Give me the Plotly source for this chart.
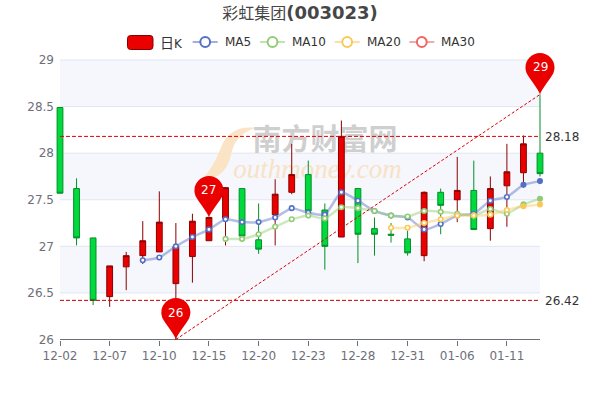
import plotly.graph_objects as go

dates = ["12-02","12-03","12-06","12-07","12-08","12-09","12-10","12-13","12-14","12-15",
         "12-16","12-17","12-20","12-21","12-22","12-23","12-24","12-27","12-28","12-29",
         "12-30","12-31","01-04","01-05","01-06","01-07","01-10","01-11","01-12","01-13"]
open_ = [28.49,27.62,27.09,26.46,26.78,26.90,26.94,26.60,26.89,27.06,
         27.30,27.62,27.07,27.34,27.58,27.77,27.39,27.10,27.62,27.19,
         27.13,27.08,26.90,27.58,27.50,27.60,27.19,27.65,27.79,28.00]
close = [27.57,27.09,26.42,26.79,26.90,27.06,27.26,27.00,27.27,27.31,
         27.63,27.11,26.97,27.56,27.77,27.38,27.00,28.18,27.13,27.13,
         27.12,26.93,27.58,27.44,27.60,27.18,27.62,27.80,28.10,27.78]
low = [27.57,27.01,26.37,26.35,26.53,26.81,26.94,26.00,26.61,27.06,
       27.01,27.11,26.92,27.01,27.56,27.38,26.75,27.10,26.82,26.90,
       27.04,26.90,26.84,27.13,27.26,27.18,27.06,27.21,27.69,27.75]
high = [28.49,27.73,27.09,26.79,26.94,27.27,27.59,27.25,27.35,27.31,
        27.63,27.62,27.46,27.72,28.10,27.92,27.46,28.35,27.62,27.31,
        27.25,27.17,27.59,27.62,27.96,27.92,27.75,28.10,28.19,28.63]
ma5 = [None]*5 + [26.85,26.88,27.00,27.10,27.18,27.29,27.26,27.26,27.31,27.41,27.36,27.34,27.58,27.49,27.38,
                  27.33,27.31,27.18,27.24,27.33,27.35,27.49,27.53,27.66,27.70]
ma10 = [None]*10 + [27.08,27.08,27.13,27.21,27.29,27.33,27.30,27.42,27.41,27.38,
                    27.33,27.32,27.38,27.37,27.35,27.33,27.40,27.35,27.45,27.51]
ma20 = [None]*20 + [27.20,27.20,27.25,27.29,27.33,27.33,27.34,27.39,27.43,27.45]
y_ticks = [26,26.5,27,27.5,28,28.5,29]
x_tick_idx = [0,3,6,9,12,15,18,21,24,27]
max_line, min_line = 28.18, 26.42
trend_idx = [7,29]
trend_val = [26.0,28.63]
pins = [(7,26.0,"26"),(9,27.31,"27"),(29,28.63,"29")]

N = len(dates)
GREY = "#6e7079"
RED, DRED = "#eb0000", "#8a0000"
GREEN, DGREEN = "#00da3c", "#008f28"
BLUE, LGREEN, YEL, PINK = "#5470c6", "#91cc75", "#fac858", "#ee6666"
pxx = 480/29
pxy = 279.5/3

def px(x): return x/600
def py(y): return 1-y/400
def dx(x): return (x-60)/pxx
def dy(y): return 26+(339.5-y)/pxy

fig = go.Figure()
shapes = []
annots = []

# bands + grid
for i in (1,3,5):
    shapes.append(dict(type="rect", xref="x", yref="y", x0=0, x1=N-1, y0=y_ticks[i], y1=y_ticks[i+1],
                       fillcolor="#f5f7fc", line_width=0, layer="below"))
for v in y_ticks[1:]:
    shapes.append(dict(type="line", xref="x", yref="y", x0=0, x1=N-1, y0=v, y1=v,
                       line=dict(color="#e0e6f1", width=1), layer="below"))
shapes.append(dict(type="line", xref="x", yref="y", x0=0, x1=N-1, y0=26, y1=26,
                   line=dict(color=GREY, width=1), layer="below"))

# watermark (below the traces, on top of the bands)
swoosh = [(255,128),(240,126),(228,132),(222,145),(218,155),(214,165),(205,176),(207,180),
          (218,178),(228,170),(231,155),(233,143),(240,133),(255,128)]
p = [f"{dx(a):.4f} {dy(b):.4f}" for a, b in swoosh]
shapes.append(dict(type="path", xref="x", yref="y", layer="below", line_width=0, fillcolor="#fbe3c5",
                   path=f"M {p[0]} C {p[1]} {p[2]} {p[3]} C {p[4]} {p[5]} {p[6]} L {p[7]} "
                        f"C {p[8]} {p[9]} {p[10]} C {p[11]} {p[12]} {p[13]} Z"))
shapes.append(dict(type="rect", xref="x", yref="y", x0=dx(248), x1=dx(402), y0=dy(156), y1=dy(127),
                   line_width=0, fillcolor="rgba(0,0,0,0)", layer="below",
                   label=dict(text="<b>南方财富网</b>", font=dict(family="Noto Sans CJK SC", size=29, color="#cfcfcf"))))
shapes.append(dict(type="rect", xref="x", yref="y", x0=dx(232), x1=dx(403), y0=dy(179), y1=dy(153),
                   line_width=0, fillcolor="rgba(0,0,0,0)", layer="below",
                   label=dict(text="outhmoney.com", font=dict(family="Liberation Serif", size=27, color="#f8e2c6", style="italic"))))

fig.add_trace(go.Candlestick(
    x=list(range(N)), open=open_, high=high, low=low, close=close,
    increasing=dict(line=dict(color=DRED, width=1), fillcolor=RED),
    decreasing=dict(line=dict(color=DGREEN, width=1), fillcolor=GREEN),
    whiskerwidth=0, name="日K", showlegend=False))

def ma_trace(vals, color, name):
    n_ring = [("#ffffff" if i < N-2 else color) for i in range(N)]
    fig.add_trace(go.Scatter(
        x=list(range(N)), y=vals, mode="lines", name=name, showlegend=False,
        line=dict(color=color, width=2.5, shape="spline", smoothing=0.5), opacity=0.45))
    fig.add_trace(go.Scatter(
        x=list(range(N)), y=vals, mode="markers", name=name, showlegend=False,
        marker=dict(size=4.5, color=n_ring, line=dict(color=color, width=1.6))))

ma_trace(ma5, BLUE, "MA5")
ma_trace(ma10, LGREEN, "MA10")
ma_trace(ma20, YEL, "MA20")

# mark lines
for v, c in ((max_line, "#e00000"), (min_line, "#c80000")):
    fig.add_trace(go.Scatter(x=[0,N-1], y=[v,v], mode="lines", showlegend=False,
                             line=dict(color=c, width=1, dash="4px,2px")))
    annots.append(dict(x=N-1, y=v, xref="x", yref="y", xshift=3, yshift=-1, xanchor="left", yanchor="middle",
                       text=f"{v:.2f}", showarrow=False, font=dict(size=12, color="#333333")))
fig.add_trace(go.Scatter(x=trend_idx, y=trend_val, mode="lines", showlegend=False,
                         line=dict(color="#dd0000", width=1, dash="3px,2px")))

# pins
r, h, k = 14.5, 27, 14.5*0.5523
pin_path = (f"M 0 0 C -1.5 5 -{r*0.72} {h-r*0.78} -{r*0.92} {h-r*0.4} "
            f"C -{r*1.02} {h-r*0.1} -{r} {h} -{r} {h} "
            f"C -{r} {h+k} -{k} {h+r} 0 {h+r} C {k} {h+r} {r} {h+k} {r} {h} "
            f"C {r} {h} {r*1.02} {h-r*0.1} {r*0.92} {h-r*0.4} "
            f"C {r*0.72} {h-r*0.78} 1.5 5 0 0 Z")
for ix, val, lab in pins:
    shapes.append(dict(type="path", xref="x", yref="y", xsizemode="pixel", ysizemode="pixel",
                       xanchor=ix, yanchor=val, path=pin_path, fillcolor=RED, line_width=0, layer="above"))
    annots.append(dict(x=ix, y=val, xref="x", yref="y", yshift=h, text=lab, showarrow=False,
                       font=dict(size=12, color="#ffffff"), xanchor="center", yanchor="middle"))

# legend (hand laid out)
sx0, sx1, sy0, sy1, q = 127.5, 153, 35.5, 49.5, 3
def pt(a, b): return f"{px(a):.5f} {py(b):.5f}"
shapes.append(dict(type="path", xref="paper", yref="paper", fillcolor=RED, line=dict(color=DRED, width=1),
                   path=f"M {pt(sx0+q,sy0)} L {pt(sx1-q,sy0)} Q {pt(sx1,sy0)} {pt(sx1,sy0+q)} L {pt(sx1,sy1-q)} "
                        f"Q {pt(sx1,sy1)} {pt(sx1-q,sy1)} L {pt(sx0+q,sy1)} Q {pt(sx0,sy1)} {pt(sx0,sy1-q)} "
                        f"L {pt(sx0,sy0+q)} Q {pt(sx0,sy0)} {pt(sx0+q,sy0)} Z"))
annots.append(dict(xref="paper", yref="paper", x=px(157.5), y=py(42), xanchor="left", yanchor="middle", showarrow=False,
                   text='<span style="font-size:14px;font-family:Noto Sans CJK SC">日</span>K',
                   font=dict(size=12, color="#333333")))
for x0, name, col in ((192.7,"MA5",BLUE),(260,"MA10",LGREEN),(334.7,"MA20",YEL),(409.3,"MA30",PINK)):
    shapes.append(dict(type="line", xref="paper", yref="paper", x0=px(x0), x1=px(x0+25), y0=py(42), y1=py(42),
                       line=dict(color=col, width=2), opacity=0.55))
    shapes.append(dict(type="circle", xref="paper", yref="paper", x0=px(x0+7.6), x1=px(x0+17.4), y0=py(37.1), y1=py(46.9),
                       fillcolor="#ffffff", line=dict(color=col, width=2)))
    annots.append(dict(xref="paper", yref="paper", x=px(x0+30), y=py(42), xanchor="left", yanchor="middle", showarrow=False,
                       text=name, font=dict(size=12, color="#333333")))

fig.update_layout(
    width=600, height=400, margin=dict(l=0, r=0, t=0, b=0, autoexpand=False),
    paper_bgcolor="#ffffff", plot_bgcolor="#ffffff", showlegend=False, boxgap=0.5,
    font=dict(family="DejaVu Sans", size=12, color=GREY),
    title=dict(text='<span style="font-size:16px;font-family:Noto Sans CJK SC">彩虹集团</span><b>(003023)</b>',
               x=0.5, xanchor="center", xref="paper", y=1-13/400, yanchor="middle",
               font=dict(family="DejaVu Sans", size=18, color="#464646")),
    xaxis=dict(type="linear", range=[-60/pxx, 540/pxx], tickmode="array", tickvals=x_tick_idx,
               ticktext=[dates[i] for i in x_tick_idx], showgrid=False, zeroline=False, showline=False,
               ticks="outside", ticklen=5, tickcolor=GREY, tickwidth=1, anchor="free", position=(400-339.5)/400,
               rangeslider=dict(visible=False), tickfont=dict(size=12, color=GREY), fixedrange=True),
    yaxis=dict(range=[26-60.5/pxy, 29+60/pxy], tickmode="array", tickvals=y_ticks,
               ticktext=[f"{v:g}" for v in y_ticks], showgrid=False, zeroline=False, showline=False, ticks="",
               anchor="free", position=54/600, tickfont=dict(size=12, color=GREY), fixedrange=True),
    shapes=shapes, annotations=annots,
)
fig.write_html("out.html", config=dict(displayModeBar=False),
               post_script="document.body.style.margin='0';document.body.style.overflow='hidden';")
